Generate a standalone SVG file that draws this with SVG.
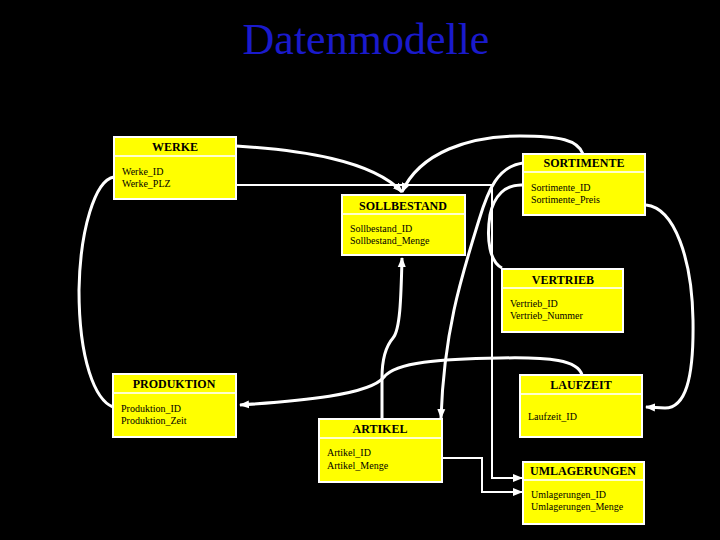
<svg xmlns="http://www.w3.org/2000/svg" width="720" height="540" viewBox="0 0 720 540">
<style>
.box{fill:#ffff00;stroke:#ffffff;stroke-width:2}
.sep{stroke:#ffffcc;stroke-width:2}
.title{font-family:"Liberation Serif",serif;font-weight:bold;font-size:12px;fill:#000;text-anchor:middle}
.attr{font-family:"Liberation Serif",serif;font-size:10px;fill:#000}
.con{fill:none;stroke:#ffffff;stroke-width:3}
.thin{fill:none;stroke:#ffffff;stroke-width:2}
</style>
<defs>
<marker id="ah" markerUnits="userSpaceOnUse" markerWidth="10" markerHeight="10" viewBox="0 0 10 10" refX="9" refY="5" orient="auto">
<path d="M0,1 L10,5 L0,9 Z" fill="#ffffff"/>
</marker>
</defs>
<rect x="0" y="0" width="720" height="540" fill="#000000"/>
<text x="366" y="54" font-family="Liberation Serif,serif" font-size="44" fill="#1a1acc" text-anchor="middle">Datenmodelle</text>

<g id="connectors">
<path class="con" d="M236,146 C300,150 372,160 402,192" marker-end="url(#ah)"/>
<path class="con" d="M583,154 C578,140 560,136 520,136 C470,136 420,152 402,192" marker-end="url(#ah)"/>
<path class="thin" d="M236,185 L492,185 L492,478 L522,478" marker-end="url(#ah)"/>
<path class="thin" d="M442,458 L482,458 L482,492 L522,492" marker-end="url(#ah)"/>
<path class="con" d="M523,185 C505,184 494,196 490,215 C486,240 490,262 502,268"/>
<path class="con" d="M523,163 C498,166 488,190 479,220 C462,275 444,330 441,418" marker-end="url(#ah)"/>
<path class="con" d="M382,419 L382,378 C382,360 386,346 393,338 C400,330 401,300 402,258" marker-end="url(#ah)"/>
<path class="con" d="M582,375 C578,360 550,357 500,358 C440,359 396,362 384,377 C370,395 300,401 240,405" marker-end="url(#ah)"/>
<path class="con" d="M114,177 C95,180 80,230 79,290 C79,360 95,400 113,407"/>
<path class="con" d="M646,205 C675,208 692,260 693,320 C694,380 685,408 665,408 L646,407" marker-end="url(#ah)"/>
</g>

<g id="werke">
<rect class="box" x="114" y="137" width="122" height="62"/>
<line class="sep" x1="115" y1="156" x2="235" y2="156"/>
<text class="title" x="175" y="151">WERKE</text>
<text class="attr" x="122" y="175">Werke_ID</text>
<text class="attr" x="122" y="187">Werke_PLZ</text>
</g>

<g id="sortimente">
<rect class="box" x="523" y="154" width="122" height="61"/>
<line class="sep" x1="524" y1="172" x2="644" y2="172"/>
<text class="title" x="584" y="167">SORTIMENTE</text>
<text class="attr" x="531" y="191">Sortimente_ID</text>
<text class="attr" x="531" y="203">Sortimente_Preis</text>
</g>

<g id="sollbestand">
<rect class="box" x="342" y="195" width="123" height="60"/>
<line class="sep" x1="343" y1="214" x2="464" y2="214"/>
<text class="title" x="403" y="210">SOLLBESTAND</text>
<text class="attr" x="350" y="232">Sollbestand_ID</text>
<text class="attr" x="350" y="244">Sollbestand_Menge</text>
</g>

<g id="vertrieb">
<rect class="box" x="502" y="269" width="121" height="63"/>
<line class="sep" x1="503" y1="288" x2="622" y2="288"/>
<text class="title" x="563" y="284">VERTRIEB</text>
<text class="attr" x="510" y="307">Vertrieb_ID</text>
<text class="attr" x="510" y="319">Vertrieb_Nummer</text>
</g>

<g id="produktion">
<rect class="box" x="113" y="374" width="123" height="63"/>
<line class="sep" x1="114" y1="393" x2="235" y2="393"/>
<text class="title" x="174" y="388">PRODUKTION</text>
<text class="attr" x="121" y="412">Produktion_ID</text>
<text class="attr" x="121" y="424">Produktion_Zeit</text>
</g>

<g id="artikel">
<rect class="box" x="319" y="419" width="123" height="63"/>
<line class="sep" x1="320" y1="438" x2="441" y2="438"/>
<text class="title" x="380" y="433">ARTIKEL</text>
<text class="attr" x="327" y="456">Artikel_ID</text>
<text class="attr" x="327" y="469">Artikel_Menge</text>
</g>

<g id="laufzeit">
<rect class="box" x="520" y="375" width="122" height="62"/>
<line class="sep" x1="521" y1="394" x2="641" y2="394"/>
<text class="title" x="581" y="389">LAUFZEIT</text>
<text class="attr" x="528" y="420">Laufzeit_ID</text>
</g>

<g id="umlagerungen">
<rect class="box" x="523" y="462" width="121" height="62"/>
<line class="sep" x1="524" y1="480" x2="643" y2="480"/>
<text class="title" x="583" y="475">UMLAGERUNGEN</text>
<text class="attr" x="531" y="498">Umlagerungen_ID</text>
<text class="attr" x="531" y="510">Umlagerungen_Menge</text>
</g>
</svg>
